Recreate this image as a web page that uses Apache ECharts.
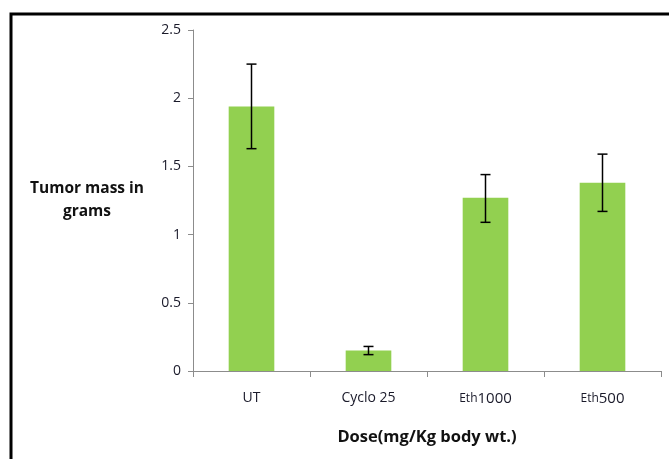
<!DOCTYPE html>
<html><head><meta charset="utf-8">
<script src="https://cdn.jsdelivr.net/npm/echarts@6/dist/echarts.min.js"></script>
<style>html,body{margin:0;padding:0;background:#fff}#c{width:669px;height:459px}</style>
</head><body><div id="c"></div>
<script>
const categories = ['UT', 'Cyclo 25', 'Eth1000', 'Eth500'];
const catLabels = ['UT', 'Cyclo 25', '{s|Eth}{b|1000}', '{s|Eth}{b|500}'];
const means = [1.94, 0.15, 1.27, 1.38];
const errLow = [1.63, 0.12, 1.09, 1.17];
const errHigh = [2.25, 0.18, 1.44, 1.59];
const yTicks = [0, 0.5, 1, 1.5, 2, 2.5];

const chart = echarts.init(document.getElementById('c'));
const font = '"Open Sans", "Noto Sans", sans-serif';
chart.setOption({
  animation: false,
  backgroundColor: '#fff',
  grid: {left: 193, right: 8, top: 30, bottom: 88, containLabel: false},
  graphic: [
    {type: 'rect', shape: {x: 11, y: 14, width: 700, height: 500}, style: {fill: 'none', stroke: '#000', lineWidth: 3}, z: 100}
  ],
  xAxis: {
    type: 'category', data: categories,
    axisLine: {lineStyle: {color: '#8c8c8c', width: 1}},
    axisTick: {show: true, alignWithLabel: false, length: 6, lineStyle: {color: '#8c8c8c'}},
    axisLabel: {
      interval: 0, margin: 20, color: '#1a1a2a', fontFamily: font, fontSize: 14,
      formatter: (v, i) => catLabels[i],
      rich: {s: {fontSize: 12, fontFamily: font, color: '#1a1a2a'}, b: {fontSize: 15, fontFamily: font, color: '#1a1a2a'}}
    },
    name: 'Dose(mg/Kg body wt.)', nameLocation: 'middle', nameGap: 58,
    nameTextStyle: {fontFamily: font, fontWeight: 'bold', fontSize: 16.5, color: '#111'}
  },
  yAxis: {
    type: 'value', min: 0, max: 2.5, interval: 0.5,
    axisLine: {show: true, lineStyle: {color: '#8c8c8c', width: 1}},
    axisTick: {show: true, length: 5, lineStyle: {color: '#8c8c8c'}},
    splitLine: {show: false},
    axisLabel: {margin: 12, color: '#1a1a2a', fontFamily: font, fontSize: 14,
      formatter: v => yTicks.includes(v) ? String(v) : ''},
    name: 'Tumor mass in\ngrams', nameLocation: 'middle', nameRotate: 0, nameGap: 106,
    nameTextStyle: {fontFamily: font, fontWeight: 'bold', fontSize: 15.5, color: '#111', lineHeight: 23, align: 'center'}
  },
  series: [
    {type: 'bar', data: means, barWidth: '39%', itemStyle: {color: '#92d050'}},
    {type: 'custom', data: categories.map((c, i) => [i, errLow[i], errHigh[i]]),
      renderItem: (params, api) => {
        const lo = api.coord([api.value(0), api.value(1)]);
        const hi = api.coord([api.value(0), api.value(2)]);
        const w = 5;
        const st = {stroke: '#000', lineWidth: 1.5};
        return {type: 'group', children: [
          {type: 'line', shape: {x1: lo[0], y1: lo[1], x2: hi[0], y2: hi[1]}, style: st},
          {type: 'line', shape: {x1: lo[0]-w, y1: lo[1], x2: lo[0]+w, y2: lo[1]}, style: st},
          {type: 'line', shape: {x1: hi[0]-w, y1: hi[1], x2: hi[0]+w, y2: hi[1]}, style: st}
        ]};
      }, z: 10}
  ]
});
</script></body></html>
